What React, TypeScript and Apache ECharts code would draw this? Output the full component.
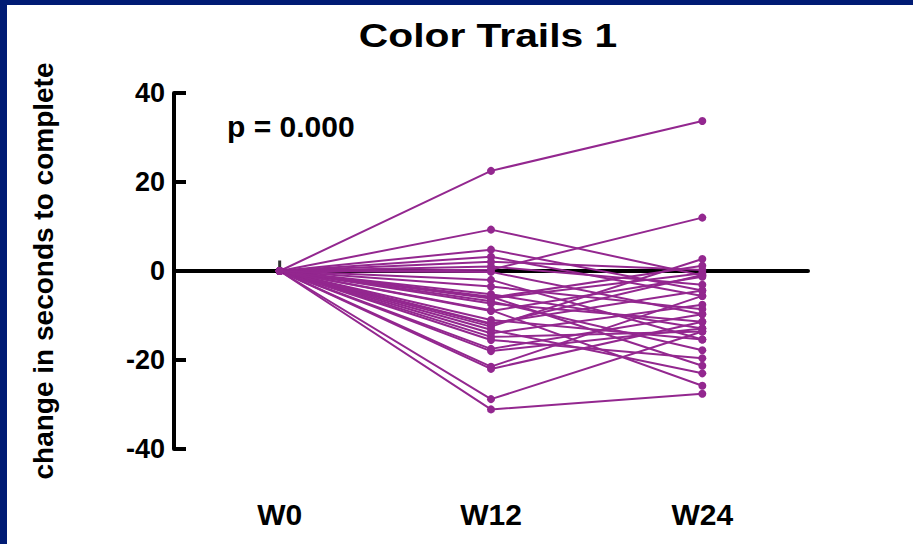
import React, { useEffect, useRef } from "react";
import * as echarts from "echarts";

const categories = ["W0", "W12", "W24"];
const yTicks = [-40, -20, 0, 20, 40];
const baseline = 0;
const w12Values = [
  22.5, 9.3, 4.8, 3.2, 2.1, 1.0, 0.3, -0.2, -3.5, -5.2, -5.8, -6.2, -6.8, -7.3, -8.8, -11.0,
  -11.8, -12.5, -13.2, -14.0, -14.8, -15.5, -17.5, -18.0, -21.5, -22.0, -28.8, -31.1, -6.0, -12.0, -9.0, -2.0,
];
const w24Values = [
  33.7, -1.0, -4.4, -5.6, 0.2, -3.1, 12.0, -9.7, -8.6, -12.9, -21.3, -0.5, -17.8, -11.4, -25.8, -15.4,
  -4.4, 2.7, -23.0, -7.6, -13.6, -19.6, -9.7, -12.9, -5.6, -11.4, -13.6, -27.6, 1.2, -0.9, -1.3, -15.4,
];

const FONT = "'Liberation Sans', Arial, Helvetica, sans-serif";
const PURPLE = "#93278F";
const NAVY = "#001b74";

export default function App() {
  const ref = useRef<HTMLDivElement>(null);

  useEffect(() => {
    if (!ref.current) return;
    const chart = echarts.init(ref.current, undefined, { renderer: "svg" });
    const series: any[] = w12Values.map((v, i) => ({
      type: "line" as const,
      data: [baseline, v, w24Values[i]],
      symbol: "circle",
      symbolSize: 8,
      showSymbol: true,
      lineStyle: { color: PURPLE, width: 2 },
      itemStyle: { color: PURPLE },
      emphasis: { disabled: true },
      z: 3,
    }));
    // small black tick mark on the zero line at W0
    series.push({
      type: "scatter",
      data: [[categories[0], baseline]],
      symbol: "rect",
      symbolSize: [3, 11],
      symbolOffset: [0, -5],
      itemStyle: { color: "#000" },
      emphasis: { disabled: true },
      silent: true,
      z: 2,
    });
    chart.setOption({
      animation: false,
      backgroundColor: "#ffffff",
      grid: {
        left: 174,
        right: 105,
        top: 93,
        bottom: 95,
        containLabel: false,
        outerBoundsMode: "none",
      },
      xAxis: {
        type: "category",
        data: categories,
        boundaryGap: true,
        axisLine: { onZero: true, lineStyle: { color: "#000", width: 4 } },
        axisTick: { show: false },
        axisLabel: {
          margin: 50,
          fontSize: 30,
          fontWeight: "bold",
          color: "#000",
          fontFamily: FONT,
        },
        splitLine: { show: false },
      },
      yAxis: {
        type: "value",
        min: -40,
        max: 40,
        interval: 20,
        axisLine: { show: true, lineStyle: { color: "#000", width: 4 } },
        axisTick: { show: true, inside: true, length: 12, lineStyle: { color: "#000", width: 4 } },
        axisLabel: {
          margin: 9,
          fontSize: 27,
          fontWeight: "bold",
          color: "#000",
          fontFamily: FONT,
          customValues: yTicks,
        },
        splitLine: { show: false },
        name: "change in seconds to complete",
        nameLocation: "middle",
        nameGap: 117,
        nameTextStyle: { fontSize: 28, fontWeight: "bold", color: "#000", fontFamily: FONT },
      },
      graphic: [
        { type: "rect", left: 0, top: 0, shape: { x: 0, y: 0, width: 913, height: 5 }, style: { fill: NAVY }, z: 100 },
        { type: "rect", left: 0, top: 0, shape: { x: 0, y: 0, width: 7, height: 544 }, style: { fill: NAVY }, z: 100 },
        {
          type: "text",
          x: 488,
          y: 35,
          scaleX: 1.2,
          style: {
            text: "Color Trails 1",
            fontSize: 34,
            fontWeight: "bold",
            fontFamily: FONT,
            fill: "#000",
            textAlign: "center",
            textVerticalAlign: "middle",
          },
        },
        {
          type: "text",
          x: 227,
          y: 126,
          style: {
            text: "p = 0.000",
            fontSize: 30,
            fontWeight: "bold",
            fontFamily: FONT,
            fill: "#000",
            textAlign: "left",
            textVerticalAlign: "middle",
          },
        },
      ],
      series,
    });
    return () => chart.dispose();
  }, []);

  return (
    <div
      ref={ref}
      style={{ position: "fixed", left: 0, top: 0, width: 913, height: 544, background: "#fff" }}
    />
  );
}
